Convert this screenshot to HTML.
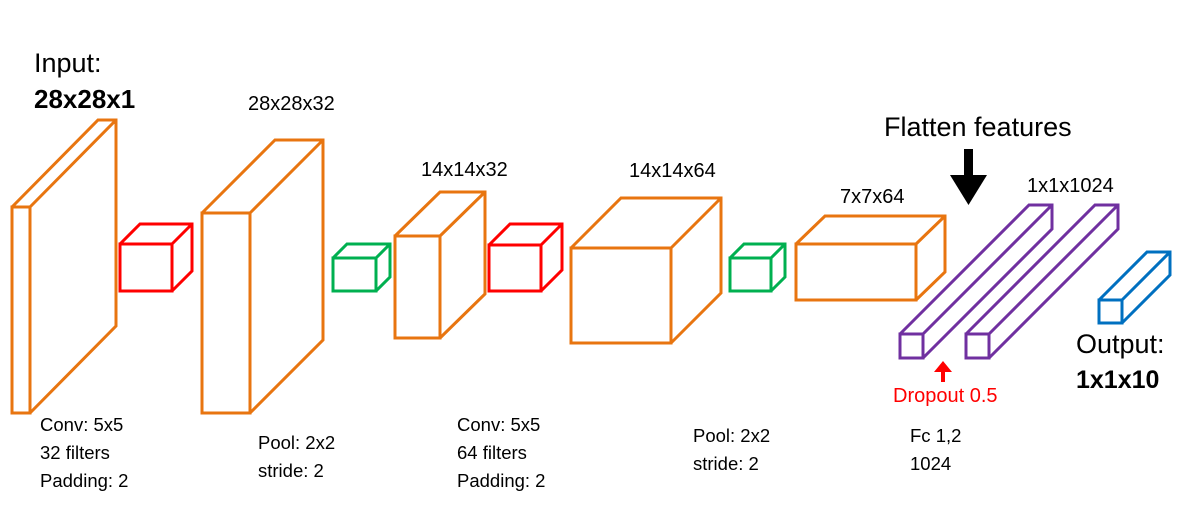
<!DOCTYPE html>
<html><head><meta charset="utf-8"><style>
html,body{margin:0;padding:0;background:#fff;}
svg{display:block;}
text{font-family:"Liberation Sans",sans-serif;}
</style></head><body>
<svg width="1193" height="514" viewBox="0 0 1193 514" xmlns="http://www.w3.org/2000/svg">
<g fill="none" stroke-width="3" stroke-linejoin="miter">
<path stroke="#E87510" d="M12 207H30V413H12Z M12 207L98 120H116V326L30 413M30 207L116 120"/>
<path stroke="#E87510" d="M202 213H250V413H202Z M202 213L275 140H323V340L250 413M250 213L323 140"/>
<path stroke="#FF0000" d="M120 244H172V291H120Z M120 244L140 224H192V271L172 291M172 244L192 224"/>
<path stroke="#00B050" d="M333 258H376V291H333Z M333 258L347 244H390V277L376 291M376 258L390 244"/>
<path stroke="#E87510" d="M395 236H440V338H395Z M395 236L440 192H485V294L440 338M440 236L485 192"/>
<path stroke="#FF0000" d="M489 245H541V291H489Z M489 245L510 224H562V270L541 291M541 245L562 224"/>
<path stroke="#E87510" d="M571 248H671V343H571Z M571 248L621 198H721V293L671 343M671 248L721 198"/>
<path stroke="#00B050" d="M730 258H771V291H730Z M730 258L744 244H785V277L771 291M771 258L785 244"/>
<path stroke="#E87510" d="M796 244H916V300H796Z M796 244L825 216H945V272L916 300M916 244L945 216"/>
<path stroke="#7030A0" d="M900 334H923V358H900Z M900 334L1029 205H1052V229L923 358M923 334L1052 205"/>
<path stroke="#7030A0" d="M966 334H989V358H966Z M966 334L1095 205H1118V229L989 358M989 334L1118 205"/>
<path stroke="#0070C0" d="M1099 300H1122V323H1099Z M1099 300L1147 252H1170V275L1122 323M1122 300L1170 252"/>
</g>
<rect x="964" y="149" width="9" height="28" fill="#000"/>
<polygon points="950,175 987,175 968.5,205" fill="#000"/>
<rect x="941" y="368" width="4" height="14" fill="#f00"/>
<polygon points="934,372 952,372 943,361" fill="#f00"/>
<text x="34" y="72" font-size="27">Input:</text>
<text x="34" y="108" font-size="26" font-weight="bold">28x28x1</text>
<text x="248" y="110" font-size="20">28x28x32</text>
<text x="421" y="176" font-size="20">14x14x32</text>
<text x="629" y="177" font-size="20">14x14x64</text>
<text x="840" y="203" font-size="20">7x7x64</text>
<text x="1027" y="192" font-size="20">1x1x1024</text>
<text x="884" y="136" font-size="27">Flatten features</text>
<text x="1076" y="353" font-size="27">Output:</text>
<text x="1076" y="388" font-size="25" font-weight="bold">1x1x10</text>
<text x="893" y="402" font-size="20" fill="#f00">Dropout 0.5</text>
<g font-size="18.5">
<text x="40" y="431">Conv: 5x5</text>
<text x="40" y="459">32 filters</text>
<text x="40" y="487">Padding: 2</text>
<text x="258" y="449">Pool: 2x2</text>
<text x="258" y="477">stride: 2</text>
<text x="457" y="431">Conv: 5x5</text>
<text x="457" y="459">64 filters</text>
<text x="457" y="487">Padding: 2</text>
<text x="693" y="442">Pool: 2x2</text>
<text x="693" y="470">stride: 2</text>
<text x="910" y="442">Fc 1,2</text>
<text x="910" y="470">1024</text>
</g>
</svg>
</body></html>
